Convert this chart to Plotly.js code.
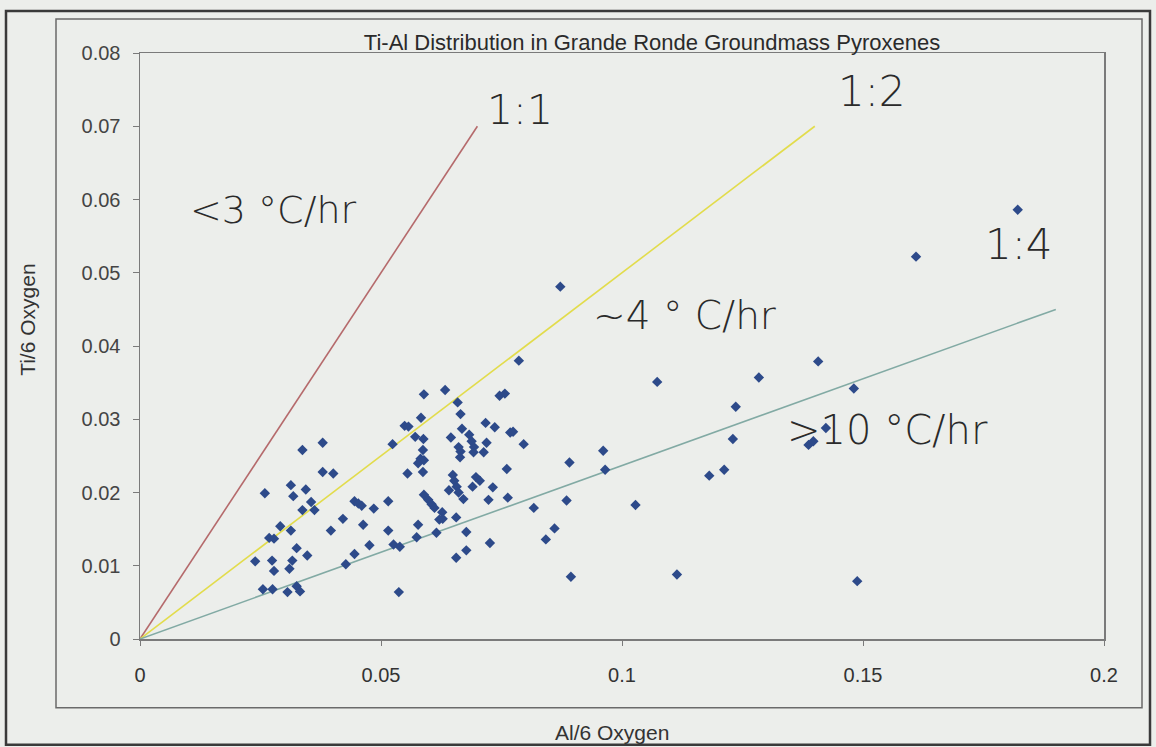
<!DOCTYPE html>
<html>
<head>
<meta charset="utf-8">
<script src="https://cdn.plot.ly/plotly-3.0.1.min.js"></script>
<style>
  html, body { margin: 0; padding: 0; background: #eceeeb; }
  #chart { width: 1156px; height: 747px; }
</style>
</head>
<body>
<div id="chart"></div>
<script>
// Groundmass pyroxene analyses: Al and Ti per 6 oxygens
const alPer6O = [
  0.0239, 0.0255, 0.0259, 0.0268, 0.0278, 0.0274, 0.0278, 0.0275, 0.0291, 0.0306,
  0.0310, 0.0313, 0.0313, 0.0316, 0.0318, 0.0325, 0.0325, 0.0332, 0.0337, 0.0337,
  0.0344, 0.0347, 0.0355, 0.0362, 0.0379, 0.0379, 0.0396, 0.0401, 0.0421, 0.0427,
  0.0445, 0.0453, 0.0460, 0.0445, 0.0463, 0.0476, 0.0485, 0.0515, 0.0515, 0.0524,
  0.0526, 0.0539, 0.0537, 0.0549, 0.0557, 0.0555, 0.0571, 0.0588, 0.0583, 0.0589,
  0.0587, 0.0582, 0.0589, 0.0577, 0.0587, 0.0589, 0.0598, 0.0605, 0.0611, 0.0577,
  0.0574, 0.0615, 0.0627, 0.0621, 0.0628, 0.0633, 0.0659, 0.0665, 0.0668, 0.0645,
  0.0661, 0.0665, 0.0664, 0.0649, 0.0652, 0.0657, 0.0641, 0.0661, 0.0671, 0.0656,
  0.0677, 0.0677, 0.0656, 0.0683, 0.0688, 0.0693, 0.0692, 0.0697, 0.0705, 0.0690,
  0.0717, 0.0736, 0.0719, 0.0713, 0.0732, 0.0723, 0.0726, 0.0746, 0.0757, 0.0768,
  0.0774, 0.0761, 0.0763, 0.0786, 0.0796, 0.0817, 0.0860, 0.0842, 0.0872, 0.0891,
  0.0885, 0.0894, 0.0961, 0.0965, 0.1028, 0.1073, 0.1114, 0.1181, 0.1212, 0.1230,
  0.1236, 0.1284, 0.1387, 0.1397, 0.1407, 0.1423, 0.1481, 0.1488, 0.1610, 0.1821
];
const tiPer6O = [
  0.0106, 0.0068, 0.0199, 0.0138, 0.0137, 0.0107, 0.0093, 0.0068, 0.0154, 0.0064,
  0.0096, 0.0210, 0.0148, 0.0107, 0.0195, 0.0124, 0.0072, 0.0065, 0.0258, 0.0176,
  0.0204, 0.0114, 0.0187, 0.0176, 0.0268, 0.0228, 0.0148, 0.0226, 0.0164, 0.0102,
  0.0188, 0.0185, 0.0182, 0.0116, 0.0156, 0.0128, 0.0178, 0.0188, 0.0148, 0.0266,
  0.0129, 0.0126, 0.0064, 0.0291, 0.0290, 0.0226, 0.0276, 0.0273, 0.0302, 0.0334,
  0.0258, 0.0246, 0.0244, 0.0240, 0.0228, 0.0197, 0.0190, 0.0184, 0.0179, 0.0156,
  0.0139, 0.0145, 0.0173, 0.0163, 0.0164, 0.0340, 0.0323, 0.0307, 0.0287, 0.0275,
  0.0262, 0.0256, 0.0248, 0.0224, 0.0216, 0.0208, 0.0203, 0.0200, 0.0191, 0.0166,
  0.0146, 0.0121, 0.0111, 0.0279, 0.0270, 0.0262, 0.0255, 0.0221, 0.0216, 0.0208,
  0.0295, 0.0289, 0.0268, 0.0255, 0.0207, 0.0190, 0.0131, 0.0332, 0.0335, 0.0282,
  0.0283, 0.0232, 0.0193, 0.0380, 0.0266, 0.0179, 0.0151, 0.0136, 0.0481, 0.0241,
  0.0189, 0.0085, 0.0257, 0.0231, 0.0183, 0.0351, 0.0088, 0.0223, 0.0231, 0.0273,
  0.0317, 0.0357, 0.0265, 0.0270, 0.0379, 0.0288, 0.0342, 0.0079, 0.0522, 0.0586
];

// Reference ratio lines (Ti:Al)
const ratioLabels = ['1:1', '1:2', '1:4'];
const ratioAl = [[0, 0.07], [0, 0.14], [0, 0.19]];
const ratioTi = [[0, 0.07], [0, 0.07], [0, 0.045]];
const ratioColors = ['#b56a6c', '#e2dc4c', '#82aaa4'];

// Cooling-rate fields and ratio tags placed on the plot
const noteText = ['1:1', '1:2', '1:4', '&lt;3 °C/hr', '~4 ° C/hr', '&gt;10 °C/hr'];
const noteAl   = [0.0788, 0.1519, 0.1824, 0.0276, 0.1129, 0.1550];
const noteTi   = [0.0722, 0.0747, 0.0538, 0.0586, 0.0442, 0.0286];
const noteSize = [41, 42, 42, 38, 39, 40];

const xTicks = [0, 0.05, 0.1, 0.15, 0.2];
const xTickText = ['0', '0.05', '0.1', '0.15', '0.2'];
const yTicks = [0, 0.01, 0.02, 0.03, 0.04, 0.05, 0.06, 0.07, 0.08];
const yTickText = ['0', '0.01', '0.02', '0.03', '0.04', '0.05', '0.06', '0.07', '0.08'];

const traces = ratioLabels.map((name, i) => ({
  type: 'scatter', mode: 'lines', name: name,
  x: ratioAl[i], y: ratioTi[i],
  line: { color: ratioColors[i], width: 1.6 },
  hoverinfo: 'skip'
}));
traces.push({
  type: 'scatter', mode: 'markers', name: 'Groundmass pyroxene',
  x: alPer6O, y: tiPer6O,
  marker: { symbol: 'diamond', size: 8, color: '#2d4a8a', line: { width: 0 } }
});

const narrow = 'Liberation Sans Narrow, Liberation Sans, Arial, sans-serif';
const plain = 'Liberation Sans, Arial, sans-serif';
const gothic = 'DejaVu Sans, Liberation Sans, sans-serif';

const annotations = noteText.map((t, i) => ({
  x: noteAl[i], y: noteTi[i], xref: 'x', yref: 'y',
  text: t, showarrow: false,
  xanchor: 'center', yanchor: 'middle',
  font: { family: gothic, size: noteSize[i], color: '#2a2a2a', weight: 300 }
}));
annotations.push({
  xref: 'paper', yref: 'paper', x: (612 - 140) / 964, y: (639.3 - 733) / 586.3,
  text: 'Al/6 Oxygen', showarrow: false, xanchor: 'center', yanchor: 'middle',
  font: { family: narrow, size: 21, color: '#333' }
});
annotations.push({
  xref: 'paper', yref: 'paper', x: (28 - 140) / 964, y: (639.3 - 320) / 586.3,
  text: 'Ti/6 Oxygen', showarrow: false, textangle: -90, xanchor: 'center', yanchor: 'middle',
  font: { family: narrow, size: 21, color: '#333' }
});

// Chart frame and outer border
const px = v => (v - 140) / 964;
const py = v => (639.3 - v) / 586.3;
const shapes = [
  { type: 'rect', xref: 'paper', yref: 'paper', x0: px(6), x1: px(1150), y0: py(11), y1: py(745),
    line: { color: '#3a3a3a', width: 2.5 }, layer: 'below' },
  { type: 'rect', xref: 'paper', yref: 'paper', x0: px(56), x1: px(1142), y0: py(19), y1: py(708),
    line: { color: '#6a6a6a', width: 1.5 }, layer: 'below' }
];

const layout = {
  width: 1156, height: 747,
  margin: { l: 140, r: 52, t: 53, b: 108, pad: 0 },
  paper_bgcolor: '#eceeeb', plot_bgcolor: '#eceeeb',
  showlegend: false,
  title: {
    text: 'Ti-Al Distribution in Grande Ronde Groundmass Pyroxenes',
    xref: 'paper', x: (652 - 140) / 964, xanchor: 'center',
    yref: 'container', y: 1 - 42 / 747, yanchor: 'middle',
    font: { family: narrow, size: 22, color: '#2a2a2a' }
  },
  xaxis: {
    range: [0, 0.2], tickvals: xTicks, ticktext: xTickText,
    showgrid: false, zeroline: false,
    showline: true, mirror: true, linecolor: '#7a7a7a', linewidth: 1.5,
    ticks: 'outside', ticklen: 5, tickcolor: '#7a7a7a', ticklabelstandoff: 12,
    tickfont: { family: narrow, size: 20, color: '#333' }
  },
  yaxis: {
    range: [0, 0.08], tickvals: yTicks, ticktext: yTickText,
    showgrid: false, zeroline: false,
    showline: true, mirror: true, linecolor: '#7a7a7a', linewidth: 1.5,
    ticks: 'outside', ticklen: 6, tickcolor: '#7a7a7a', ticklabelstandoff: 8,
    tickfont: { family: plain, size: 20, color: '#444' }
  },
  annotations: annotations,
  shapes: shapes
};

Plotly.newPlot('chart', traces, layout, { displayModeBar: false, staticPlot: true });
</script>
</body>
</html>
